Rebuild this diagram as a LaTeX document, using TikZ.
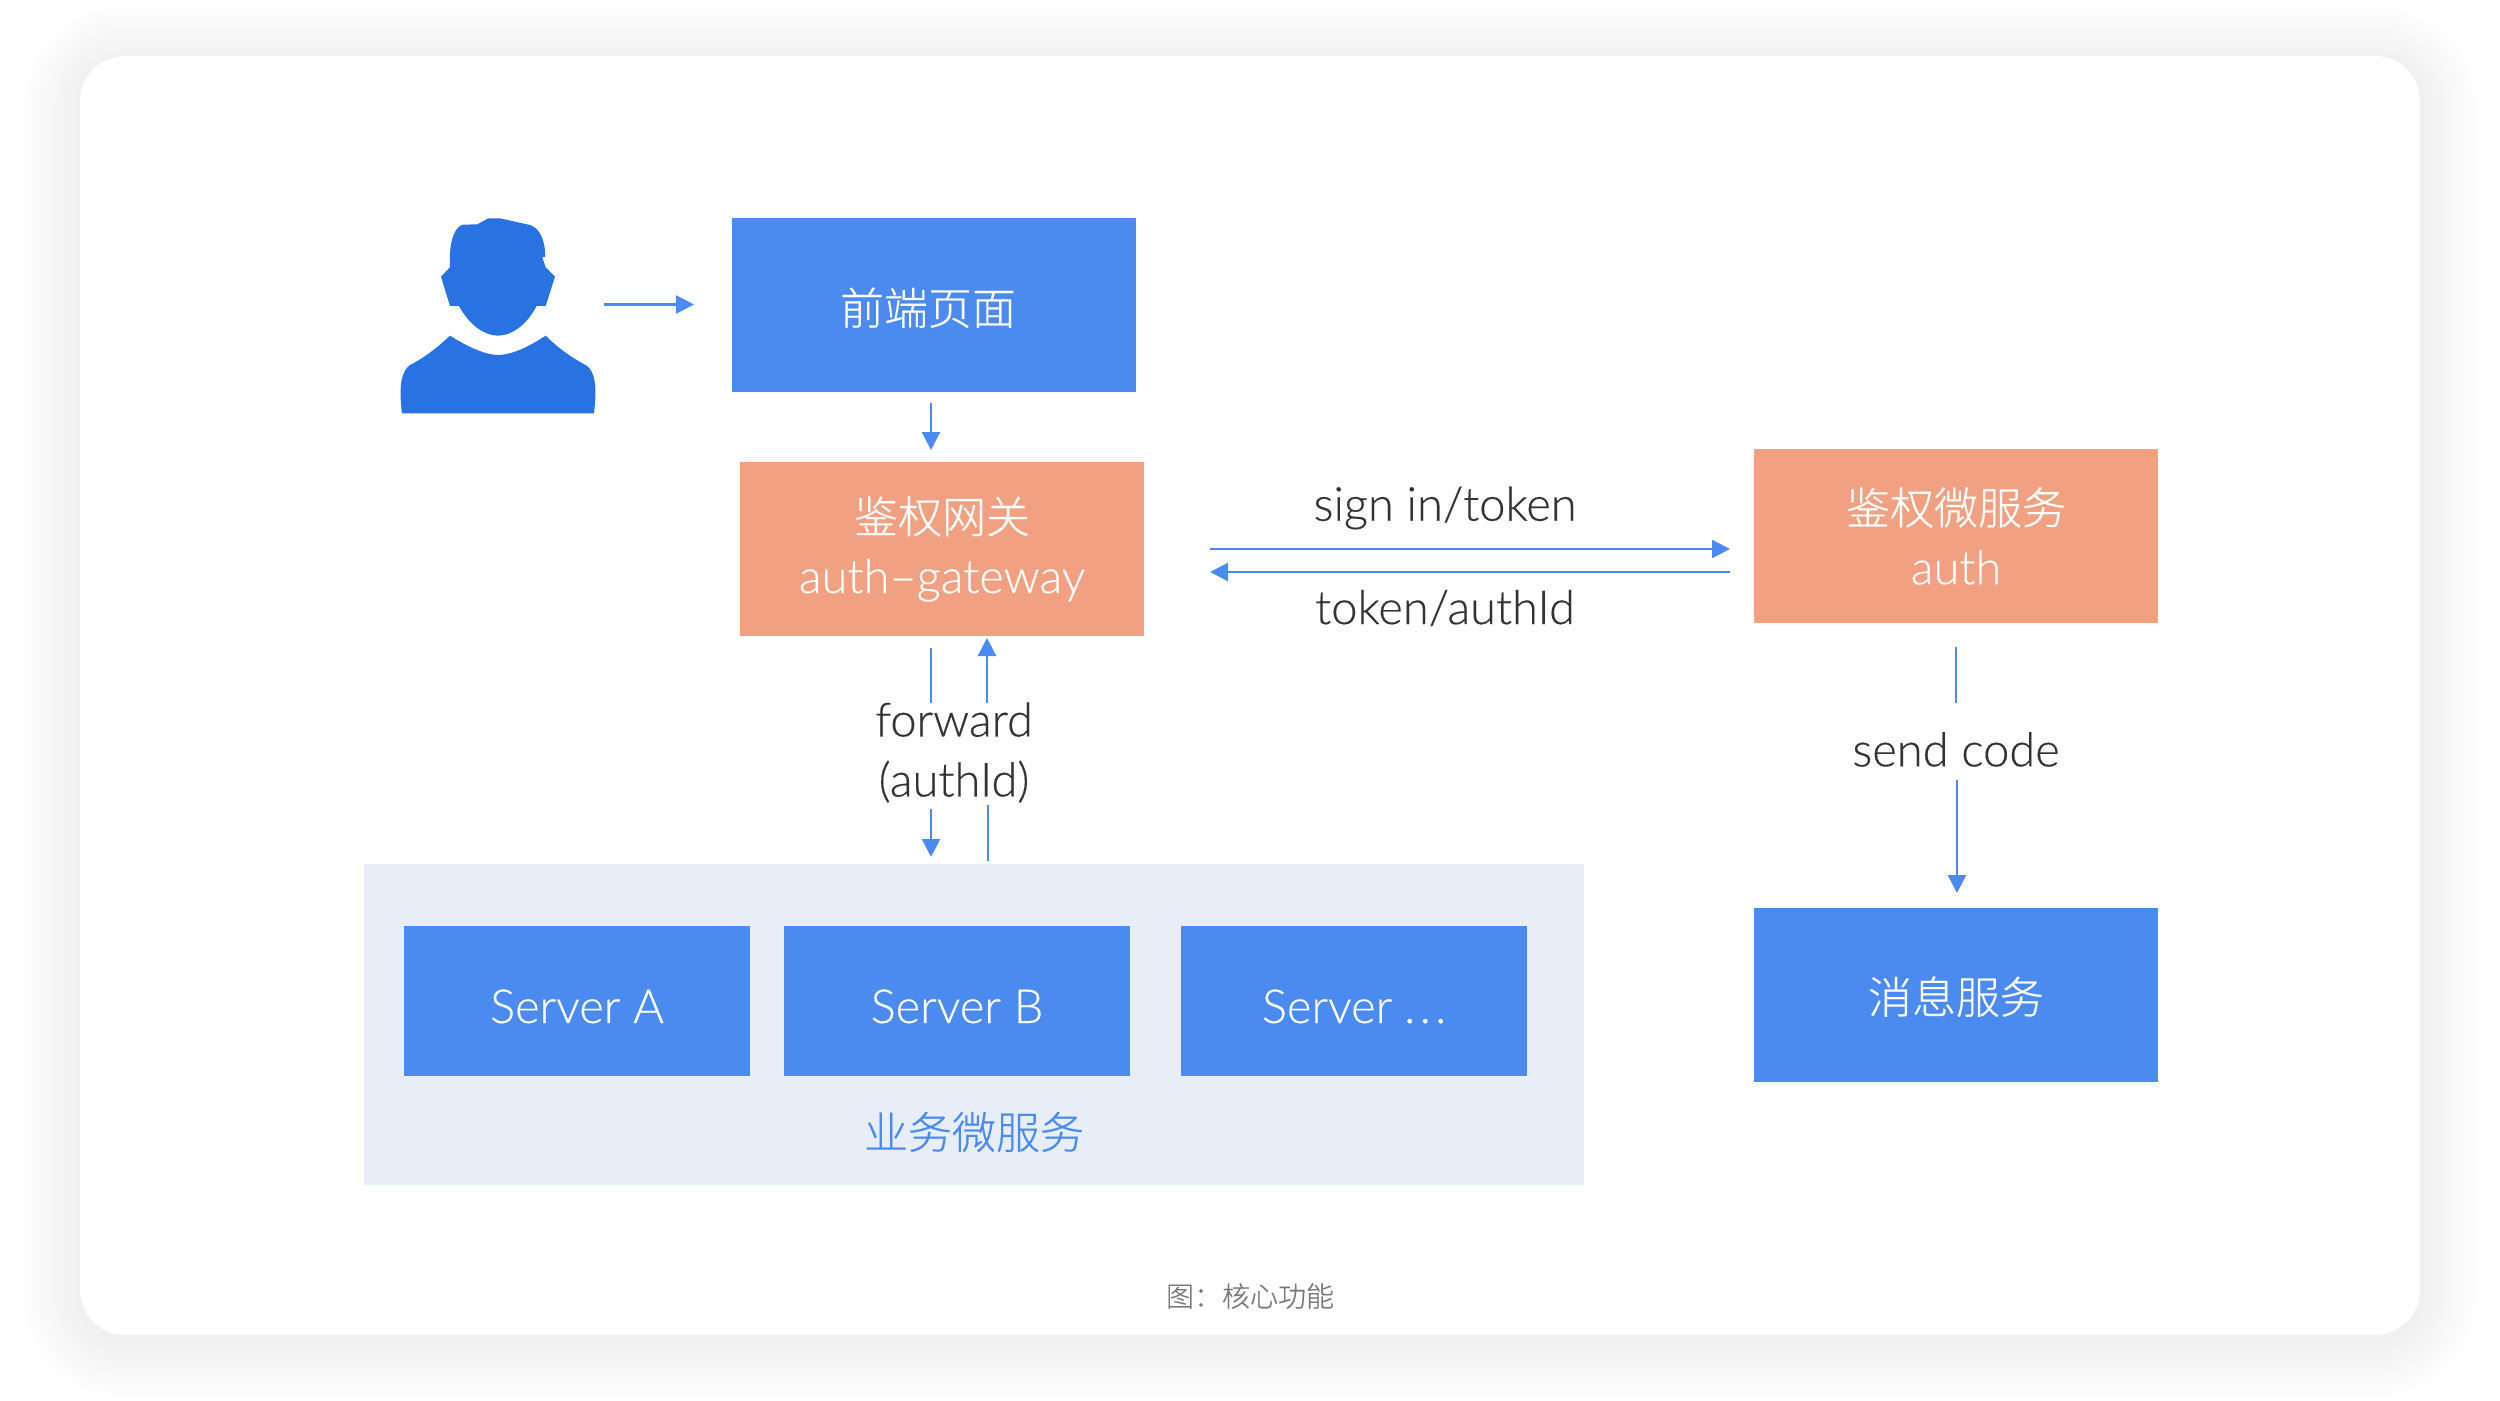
\documentclass[tikz,border=0pt]{standalone}
\usepackage{fontspec}
\setmainfont[FakeBold=0.3,AutoFakeBold=0]{Lato Light}
\newfontfamily\cjk[FakeBold=0.4]{Noto Sans CJK SC Light}
\usetikzlibrary{arrows.meta}
\definecolor{boxblue}{HTML}{4B8BF0}
\definecolor{boxorange}{HTML}{F1A182}
\definecolor{panelblue}{HTML}{E8EEF8}
\definecolor{personblue}{HTML}{2872E2}
\definecolor{textdark}{HTML}{333333}
\definecolor{capgray}{HTML}{777777}
\tikzset{
  bluebox/.style={fill=boxblue, text=white, font=\fontsize{47}{60}\selectfont},
  orangebox/.style={fill=boxorange, text=white, align=center, font=\fontsize{47}{60}\selectfont},
  flow/.style={draw=boxblue, line width=2.4pt},
  flowarrow/.style={flow, -{Triangle[length=18pt,width=18pt]}},
  lbl/.style={text=textdark, align=center, font=\fontsize{47}{60}\selectfont},
}
\begin{document}
\begin{tikzpicture}[x=1pt, y=-1pt]
  \useasboundingbox (0, 0) rectangle (2500, 1400);
  \foreach \sz in {60, 56, ..., 4}
    \fill[black, opacity=0.0025, rounded corners=45+\sz] (80-\sz, 56-\sz+6) rectangle (2420+\sz, 1335+\sz+6);
  \fill[white, rounded corners=45] (80, 56) rectangle (2420, 1335);

  % person
  \begin{scope}[shift={(360, 190)}, x=0.3333pt, y=-0.3333pt]
    \fill[personblue] (270, 348) -- (243, 260) -- (270, 232) -- (270, 190)
      .. controls (272, 150) and (285, 108) .. (310, 104)
      -- (352, 103) -- (385, 85) -- (420, 85) -- (510, 105)
      .. controls (540, 115) and (555, 150) .. (556, 200)
      -- (547, 202) -- (557, 232) -- (585, 260) -- (557, 348) -- (530, 348)
      .. controls (500, 405) and (455, 437) .. (414, 437)
      .. controls (373, 437) and (328, 405) .. (297, 348) -- cycle;
    \fill[personblue] (270, 437)
      .. controls (330, 475) and (380, 495) .. (414, 495)
      .. controls (450, 495) and (500, 475) .. (557, 437)
      .. controls (600, 480) and (640, 505) .. (680, 527)
      .. controls (705, 545) and (712, 590) .. (702, 670)
      -- (126, 670)
      .. controls (116, 590) and (123, 545) .. (150, 525)
      .. controls (190, 505) and (230, 475) .. (270, 437) -- cycle;
  \end{scope}

  % boxes
  \fill[panelblue] (364, 864) rectangle (1584, 1185);
  \node[bluebox, minimum width=404pt, minimum height=174pt, text height=39pt, text depth=0pt] (front) at (934, 305) {\hspace*{-12pt}\fontsize{44}{60}\cjk 前端页面};
  \node[orangebox, minimum width=404pt, minimum height=174pt] (gateway) at (942, 549) {{\fontsize{44}{60}\cjk 鉴权网关}\\auth–gateway};
  \node[orangebox, minimum width=404pt, minimum height=174pt] (auth) at (1956, 536) {{\fontsize{44}{60}\cjk 鉴权微服务}\\auth};
  \node[bluebox, minimum width=404pt, minimum height=174pt, text height=37pt, text depth=0pt] (msg) at (1956, 995) {\fontsize{44}{60}\cjk 消息服务};
  \node[bluebox, minimum width=346pt, minimum height=150pt, text height=44pt, text depth=0pt] (serverA) at (577, 1001) {Server A};
  \node[bluebox, minimum width=346pt, minimum height=150pt, text height=44pt, text depth=0pt] (serverB) at (957, 1001) {Server B};
  \node[bluebox, minimum width=346pt, minimum height=150pt, text height=44pt, text depth=0pt] (serverC) at (1354, 1001) {Server\kern12pt.\kern4.5pt.\kern4.5pt.};
  \node[text=boxblue, font=\fontsize{44}{60}\cjk] (panel) at (974, 1132) {业务微服务};

  % labels
  \node[lbl] (signin) at (1445, 508) {sign in/token};
  \node[lbl] (tokenid) at (1445, 608) {token/authId};
  \node[lbl] (forward) at (954, 752.5) {forward\\(authId)};
  \node[lbl] (sendcode) at (1956, 749.5) {send code};
  \node[text=capgray, font=\fontsize{28}{30}\cjk] (caption) at (1250, 1296) {图：核心功能};

  % connectors
  \coordinate (p1) at (604, 304.5);
  \coordinate (p2) at (694, 304.5);
  \coordinate (f1) at (931, 403);
  \coordinate (f2) at (931, 450);
  \coordinate (s1) at (1210, 549);
  \coordinate (s2) at (1730, 549);
  \coordinate (t1) at (1730, 572);
  \coordinate (t2) at (1210, 572);
  \coordinate (d1) at (931, 648);
  \coordinate (d2) at (931, 703);
  \coordinate (d3) at (931, 809);
  \coordinate (d4) at (931, 857);
  \coordinate (u1) at (988, 861);
  \coordinate (u2) at (988, 805);
  \coordinate (u3) at (987, 703);
  \coordinate (u4) at (987, 638);
  \coordinate (c1) at (1956, 647);
  \coordinate (c2) at (1956, 703);
  \coordinate (c3) at (1957, 780);
  \coordinate (c4) at (1957, 893);
  \draw[flowarrow] (p1) -- (p2);
  \draw[flowarrow] (f1) -- (f2);
  \draw[flowarrow] (s1) -- (s2);
  \draw[flowarrow] (t1) -- (t2);
  \draw[flow] (d1) -- (d2);
  \draw[flowarrow] (d3) -- (d4);
  \draw[flow] (u1) -- (u2);
  \draw[flowarrow] (u3) -- (u4);
  \draw[flow] (c1) -- (c2);
  \draw[flowarrow] (c3) -- (c4);
\end{tikzpicture}
\end{document}
